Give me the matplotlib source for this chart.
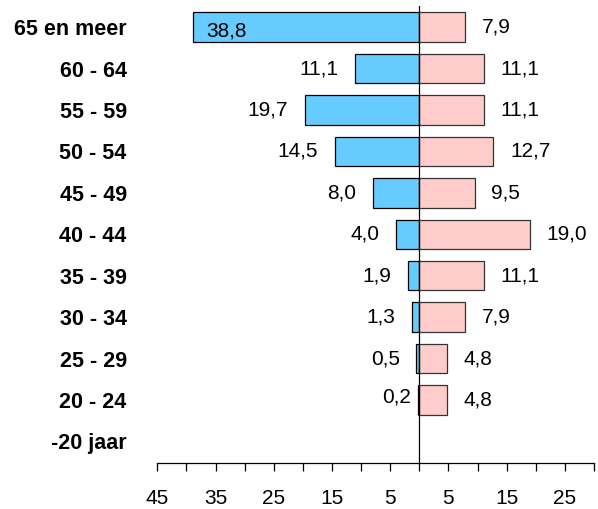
import matplotlib
matplotlib.use("Agg")
import matplotlib.pyplot as plt
import numpy as np

plt.rcParams['font.family'] = ['Liberation Sans', 'DejaVu Sans']

categories = ["65 en meer", "60 - 64", "55 - 59", "50 - 54", "45 - 49", "40 - 44",
              "35 - 39", "30 - 34", "25 - 29", "20 - 24", "-20 jaar"]
left_values = [38.8, 11.1, 19.7, 14.5, 8.0, 4.0, 1.9, 1.3, 0.5, 0.2, None]
right_values = [7.9, 11.1, 11.1, 12.7, 9.5, 19.0, 11.1, 7.9, 4.8, 4.8, None]
tick_positions = [-45, -40, -35, -30, -25, -20, -15, -10, -5, 0, 5, 10, 15, 20, 25, 30]
tick_labels = ["45", "", "35", "", "25", "", "15", "", "5", "", "5", "", "15", "", "25", ""]

blue = "#66CCFF"
pink = "#FFCCCC"

fig = plt.figure(figsize=(5.98, 5.09), dpi=100)
ax = fig.add_axes([157.3 / 598, 1 - 463 / 509, (594 - 157.3) / 598, (463 - 6) / 509])

n = len(categories)
ypos = np.arange(n)[::-1]
h = 0.71
fs = 15

for y, lv, rv in zip(ypos, left_values, right_values):
    if lv is not None:
        ax.barh(y, -lv, height=h, color=blue, edgecolor="black", linewidth=0.9, zorder=2)
        txt = f"{lv:.1f}".replace(".", ",")
        if lv > 35:
            ax.annotate(txt, (-lv, y), xytext=(9, -3), textcoords="offset points",
                        ha="left", va="center", fontsize=fs, zorder=4)
        elif lv < 0.3:
            ax.annotate(txt, (-lv, y), xytext=(-5, 2.5), textcoords="offset points",
                        ha="right", va="center", fontsize=fs, zorder=4)
        else:
            ax.annotate(txt, (-lv, y), xytext=(-12, 0), textcoords="offset points",
                        ha="right", va="center", fontsize=fs, zorder=4)
    if rv is not None:
        ax.barh(y, rv, height=h, color=pink, edgecolor="#333333", linewidth=0.9, zorder=2)
        txt = f"{rv:.1f}".replace(".", ",")
        ax.annotate(txt, (rv, y), xytext=(12, 0), textcoords="offset points",
                    ha="left", va="center", fontsize=fs, zorder=4)

ax.axvline(0, color="black", linewidth=0.9, zorder=3)

ax.set_xlim(-45, 30)
ax.set_ylim(-0.52, 10.51)
ax.set_xticks(tick_positions)
ax.set_xticklabels(tick_labels, fontsize=fs)
ax.tick_params(axis="x", direction="out", length=6, width=0.9, pad=13, color="black")
ax.set_yticks(ypos)
ax.set_yticklabels(categories, fontsize=15.5, fontweight="bold")
ax.tick_params(axis="y", length=0, pad=22)

for s in ["top", "right", "left"]:
    ax.spines[s].set_visible(False)
ax.spines["bottom"].set_linewidth(0.9)
ax.set_facecolor("white")
fig.patch.set_facecolor("white")

fig.savefig("out.png", dpi=100)
